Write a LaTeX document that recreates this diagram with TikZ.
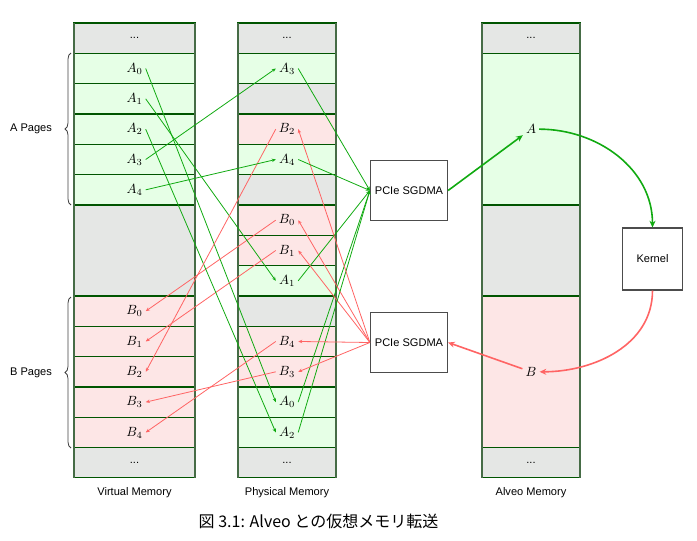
\documentclass[tikz,border=0pt]{standalone}
\usepackage[no-math]{fontspec}
\setsansfont{Liberation Sans}
\newfontfamily\jpfont{Noto Sans CJK JP}
\usetikzlibrary{arrows.meta,decorations.pathreplacing}

\definecolor{cellgrn}{RGB}{230,255,230}
\definecolor{cellred}{RGB}{253,230,230}
\definecolor{cellgry}{RGB}{229,231,229}
\definecolor{edgegrn}{RGB}{0,85,0}
\definecolor{arrgrn}{RGB}{17,170,17}
\definecolor{arrred}{RGB}{255,100,100}

\begin{document}
\begin{tikzpicture}[x=0.75pt,y=0.75pt,>={Stealth[length=3pt,width=2.6pt]},
  font=\fontsize{9.6}{11}\selectfont,
  cell/.style={draw=edgegrn,line width=0.8pt},
  lbl/.style={inner sep=2.2pt},
  txt/.style={font=\sffamily\fontsize{8.3}{10}\selectfont},
  gline/.style={->,arrgrn,line width=0.6pt},
  rline/.style={->,arrred,line width=0.6pt},
  bigarr/.style={-{Stealth[length=5pt,width=4.5pt]},line width=1.2pt},
  box/.style={draw=black!70,line width=0.8pt,minimum width=57pt,minimum height=45.5pt,txt},
  brc/.style={decorate,decoration={brace,amplitude=4.5pt},draw=black!75,line width=0.6pt}]
\useasboundingbox (0,0) rectangle (697,-540);
\def\h{30.33}
% Virtual Memory
\foreach \r/\n/\c in {0/1/cellgry,1/1/cellgrn,2/1/cellgrn,3/1/cellgrn,4/1/cellgrn,5/1/cellgrn,6/3/cellgry,
  9/1/cellred,10/1/cellred,11/1/cellred,12/1/cellred,13/1/cellred,14/1/cellgry}
  \draw[cell,fill=\c] (74,{-23-\h*\r}) rectangle (195,{-23-\h*(\r+\n)});
\node[txt] (vtop) at (134.5,{-23-\h*0.5}) {...};
\node[txt] (vbot) at (134.5,{-23-\h*14.5}) {...};
\foreach \i in {0,...,4} {
  \node[lbl] (vA\i) at (134.5,{-23-\h*(\i+1.5)}) {$A_\i$};
  \node[lbl] (vB\i) at (134.5,{-23-\h*(\i+9.5)}) {$B_\i$};
}
% Physical Memory
\foreach \r/\c in {0/cellgry,1/cellgrn,2/cellgry,3/cellred,4/cellgrn,5/cellgry,6/cellred,7/cellred,
  8/cellgrn,9/cellgry,10/cellred,11/cellred,12/cellgrn,13/cellgrn,14/cellgry}
  \draw[cell,fill=\c] (238,{-23-\h*\r}) rectangle (336,{-23-\h*(\r+1)});
\node[txt] (ptop) at (287,{-23-\h*0.5}) {...};
\node[txt] (pbot) at (287,{-23-\h*14.5}) {...};
\foreach \l/\s/\r in {A/3/1,B/2/3,A/4/4,B/0/6,B/1/7,A/1/8,B/4/10,B/3/11,A/0/12,A/2/13}
  \node[lbl] (p\l\s) at (287,{-23-\h*(\r+0.5)}) {$\l_\s$};
% Alveo Memory
\foreach \r/\n/\c in {0/1/cellgry,1/5/cellgrn,6/3/cellgry,9/5/cellred,14/1/cellgry}
  \draw[cell,fill=\c] (482,{-23-\h*\r}) rectangle (580,{-23-\h*(\r+\n)});
\node[txt] (atop) at (531,{-23-\h*0.5}) {...};
\node[txt] (abot) at (531,{-23-\h*14.5}) {...};
\node[lbl] (alA) at (531,{-23-\h*3.5}) {$A$};
\node[lbl] (alB) at (531,{-23-\h*11.5}) {$B$};
% outer edges
\foreach \xa/\xb in {74/195,238/336,482/580}
  \draw[edgegrn!45!gray,line width=1pt] (\xa,-23) -- (\xa,-478) (\xb,-23) -- (\xb,-478);

% braces
\draw[brc] (71,-205) -- (71,-53);
\draw[brc] (71,-448) -- (71,-297);
\node[txt] (apg) at (31,-129) {A Pages};
\node[txt] (bpg) at (31,-373) {B Pages};

% DMA engines and kernel
\node[box] (dmaA) at (409,-190.5) {PCIe SGDMA};
\node[box] (dmaB) at (409,-342.5) {PCIe SGDMA};
\node[box,minimum width=45.5pt,minimum height=46.5pt] (kern) at (652.5,-259) {Kernel};

% page mappings
\foreach \i in {0,...,4} {
  \draw[gline] (vA\i.east) -- (pA\i.west);
  \draw[gline] (pA\i.east) -- (dmaA.west);
  \draw[rline] (dmaB.west) -- (pB\i.east);
  \draw[rline] (pB\i.west) -- (vB\i.east);
}
\draw[bigarr,arrgrn] (dmaA.east) -- (alA);
\draw[bigarr,arrgrn] (alA.east) to[out=0,in=90] (kern.north);
\draw[bigarr,arrred] (kern.south) to[out=-90,in=0] (alB.east);
\draw[bigarr,arrred] (alB) -- (dmaB.east);

% labels
\node[txt] (vmem) at (134.5,-493) {Virtual Memory};
\node[txt] (pmem) at (287,-493) {Physical Memory};
\node[txt] (amem) at (531,-493) {Alveo Memory};
\node[font=\jpfont\fontsize{12}{14}\selectfont] (cap) at (318.5,-521) {図 3.1: Alveo との仮想メモリ転送};
\end{tikzpicture}
\end{document}
